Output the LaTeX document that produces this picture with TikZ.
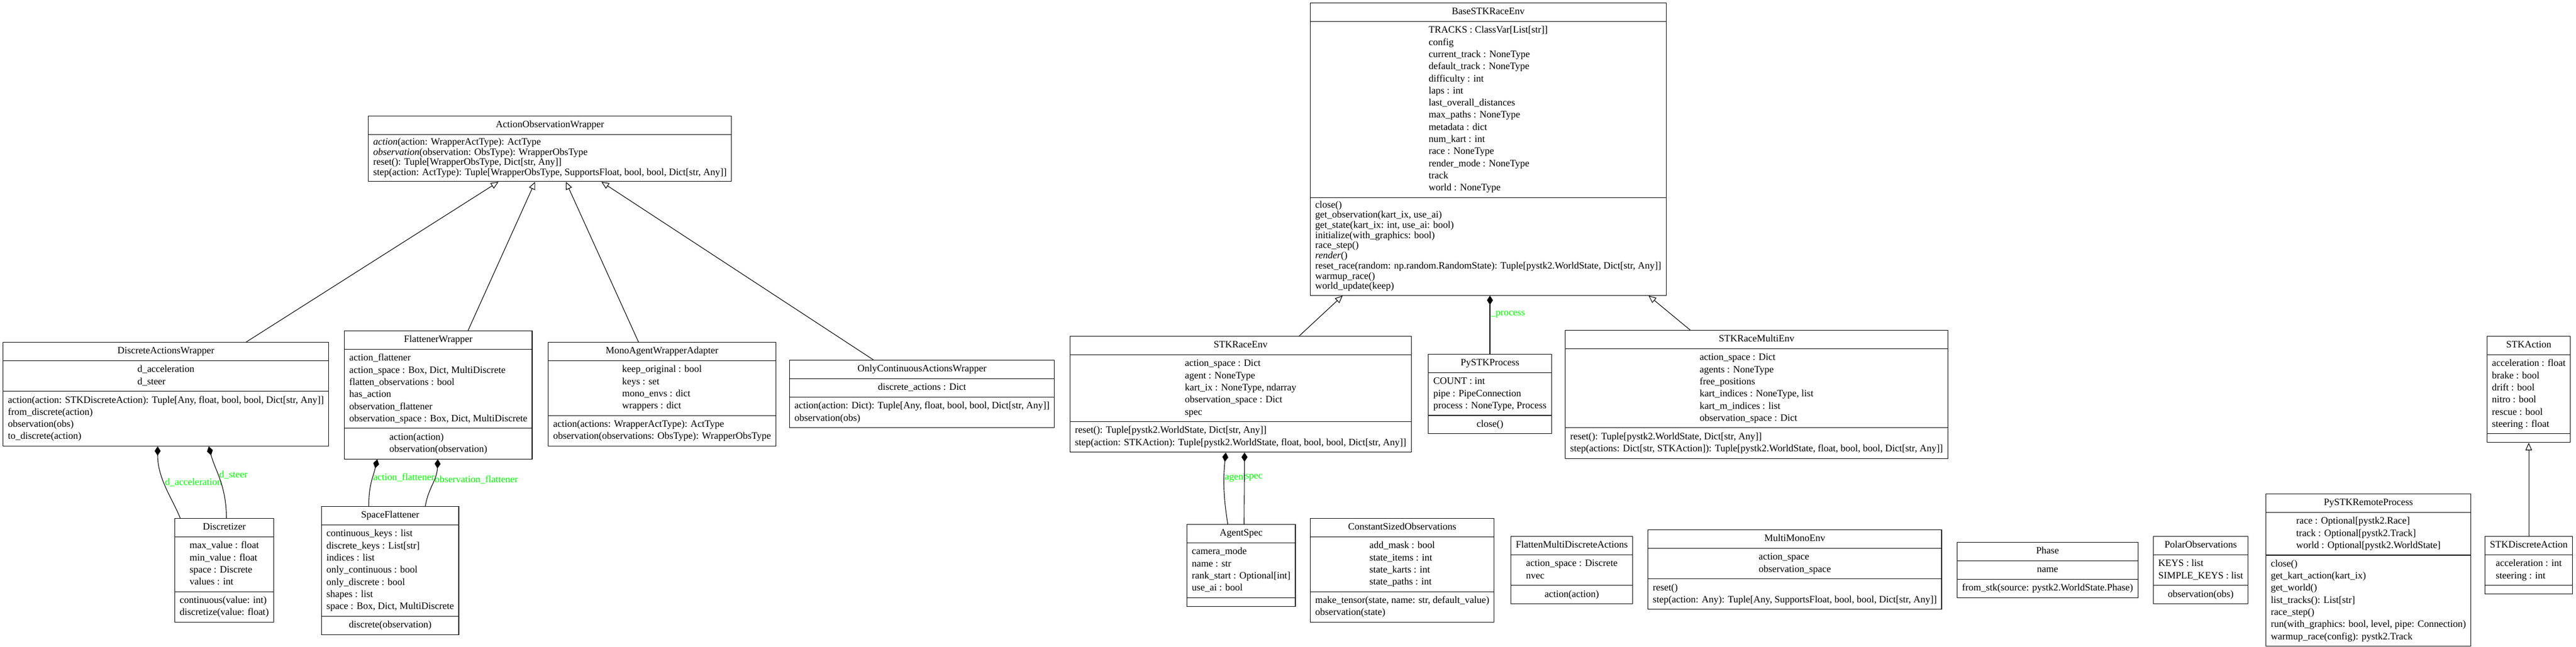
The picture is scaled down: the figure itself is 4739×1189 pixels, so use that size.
\documentclass[tikz,border=0pt]{standalone}
\usepackage{fontspec}
\setmainfont{Liberation Serif}
\usetikzlibrary{shapes.multipart,arrows.meta}
\definecolor{labelgreen}{RGB}{0,255,0}
% one compartment of a class box: left aligned lines, given line spacing, fixed padding
\newcommand{\fld}[2][22.3]{\vbox{\kern5.25pt\hbox{\fontsize{18}{#1}\selectfont\begin{tabular}{@{}l@{}}#2\end{tabular}}\kern5.25pt}}

\begin{document}
\begin{tikzpicture}[x=1pt,y=-1pt,
    cls/.style={rectangle split, rectangle split parts=3, draw, line width=1.1pt,
      anchor=north west, inner xsep=9pt, inner ysep=0pt, font=\fontsize{18}{22.3}\selectfont},
    inherit/.style={-{Triangle[open,length=14pt,width=12pt]}, line width=1.1pt},
    compose/.style={{Diamond[length=17pt,width=11pt]}-, line width=1.1pt},
    lbl/.style={anchor=west, text=labelgreen, inner sep=1pt, font=\fontsize{18}{22}\selectfont}]
  \useasboundingbox (0,0) rectangle (4739,1189);
  % Wrappers
  \node[cls, rectangle split parts=2] (aow) at (677,213) {\fld{ActionObservationWrapper}
    \nodepart{two}\fld[18.7]{\textit{action}(action: WrapperActType): ActType\\
      \textit{observation}(observation: ObsType): WrapperObsType\\
      reset(): Tuple[WrapperObsType, Dict[str, Any]]\\
      step(action: ActType): Tuple[WrapperObsType, SupportsFloat, bool, bool, Dict[str, Any]]}};
  \node[cls] (daw) at (5,629) {\fld{DiscreteActionsWrapper}
    \nodepart{two}\fld{d\_acceleration\\d\_steer}
    \nodepart{three}\fld{action(action: STKDiscreteAction): Tuple[Any, float, bool, bool, Dict[str, Any]]\\
      from\_discrete(action)\\observation(obs)\\to\_discrete(action)}};
  \node[cls] (fw) at (633,608) {\fld{FlattenerWrapper}
    \nodepart{two}\fld{action\_flattener\\action\_space : Box, Dict, MultiDiscrete\\
      flatten\_observations : bool\\has\_action\\observation\_flattener\\
      observation\_space : Box, Dict, MultiDiscrete}
    \nodepart{three}\fld{action(action)\\observation(observation)}};
  \node[cls] (mawa) at (1008,629) {\fld{MonoAgentWrapperAdapter}
    \nodepart{two}\fld{keep\_original : bool\\keys : set\\mono\_envs : dict\\wrappers : dict}
    \nodepart{three}\fld{action(actions: WrapperActType): ActType\\
      observation(observations: ObsType): WrapperObsType}};
  \node[cls] (ocaw) at (1452,662) {\fld{OnlyContinuousActionsWrapper}
    \nodepart{two}\fld{discrete\_actions : Dict}
    \nodepart{three}\fld{action(action: Dict): Tuple[Any, float, bool, bool, Dict[str, Any]]\\
      observation(obs)}};
  \node[cls] (disc) at (321,953) {\fld{Discretizer}
    \nodepart{two}\fld{max\_value : float\\min\_value : float\\space : Discrete\\values : int}
    \nodepart{three}\fld{continuous(value: int)\\discretize(value: float)}};
  \node[cls] (sflat) at (591,931) {\fld{SpaceFlattener}
    \nodepart{two}\fld{continuous\_keys : list\\discrete\_keys : List[str]\\indices : list\\
      only\_continuous : bool\\only\_discrete : bool\\shapes : list\\space : Box, Dict, MultiDiscrete}
    \nodepart{three}\fld{discrete(observation)}};
  % Environments
  \node[cls] (base) at (2410,5) {\fld{BaseSTKRaceEnv}
    \nodepart{two}\fld{TRACKS : ClassVar[List[str]]\\config\\current\_track : NoneType\\
      default\_track : NoneType\\difficulty : int\\laps : int\\last\_overall\_distances\\
      max\_paths : NoneType\\metadata : dict\\num\_kart : int\\race : NoneType\\
      render\_mode : NoneType\\track\\world : NoneType}
    \nodepart{three}\fld[18.7]{close()\\get\_observation(kart\_ix, use\_ai)\\
      get\_state(kart\_ix: int, use\_ai: bool)\\initialize(with\_graphics: bool)\\race\_step()\\
      \textit{render}()\\reset\_race(random: np.random.RandomState): Tuple[pystk2.WorldState, Dict[str, Any]]\\
      warmup\_race()\\world\_update(keep)}};
  \node[cls] (env) at (1968,618) {\fld{STKRaceEnv}
    \nodepart{two}\fld{action\_space : Dict\\agent : NoneType\\kart\_ix : NoneType, ndarray\\
      observation\_space : Dict\\spec}
    \nodepart{three}\fld{reset(): Tuple[pystk2.WorldState, Dict[str, Any]]\\
      step(action: STKAction): Tuple[pystk2.WorldState, float, bool, bool, Dict[str, Any]]}};
  \node[cls, anchor=north] (proc) at (2741,651) {\fld{PySTKProcess}
    \nodepart{two}\fld{COUNT : int\\pipe : PipeConnection\\process : NoneType, Process}
    \nodepart{three}\fld{close()}};
  \node[cls] (multi) at (2879,607) {\fld{STKRaceMultiEnv}
    \nodepart{two}\fld{action\_space : Dict\\agents : NoneType\\free\_positions\\
      kart\_indices : NoneType, list\\kart\_m\_indices : list\\observation\_space : Dict}
    \nodepart{three}\fld{reset(): Tuple[pystk2.WorldState, Dict[str, Any]]\\
      step(actions: Dict[str, STKAction]): Tuple[pystk2.WorldState, float, bool, bool, Dict[str, Any]]}};
  % Bottom row
  \node[cls] (aspec) at (2183,964) {\fld{AgentSpec}
    \nodepart{two}\fld{camera\_mode\\name : str\\rank\_start : Optional[int]\\use\_ai : bool}
    \nodepart{three}\fld{}};
  \node[cls] (cso) at (2410,953) {\fld{ConstantSizedObservations}
    \nodepart{two}\fld{add\_mask : bool\\state\_items : int\\state\_karts : int\\state\_paths : int}
    \nodepart{three}\fld{make\_tensor(state, name: str, default\_value)\\observation(state)}};
  \node[cls] (fmda) at (2779,986) {\fld{FlattenMultiDiscreteActions}
    \nodepart{two}\fld{action\_space : Discrete\\nvec}
    \nodepart{three}\fld{action(action)}};
  \node[cls] (mme) at (3031,974) {\fld{MultiMonoEnv}
    \nodepart{two}\fld{action\_space\\observation\_space}
    \nodepart{three}\fld{reset()\\step(action: Any): Tuple[Any, SupportsFloat, bool, bool, Dict[str, Any]]}};
  \node[cls] (phase) at (3600,997) {\fld{Phase}
    \nodepart{two}\fld{name}
    \nodepart{three}\fld{from\_stk(source: pystk2.WorldState.Phase)}};
  \node[cls] (polar) at (3961,986) {\fld{PolarObservations}
    \nodepart{two}\fld{KEYS : list\\SIMPLE\_KEYS : list}
    \nodepart{three}\fld{observation(obs)}};
  \node[cls] (remote) at (4168,908) {\fld{PySTKRemoteProcess}
    \nodepart{two}\fld{race : Optional[pystk2.Race]\\track : Optional[pystk2.Track]\\
      world : Optional[pystk2.WorldState]}
    \nodepart{three}\fld{close()\\get\_kart\_action(kart\_ix)\\get\_world()\\list\_tracks(): List[str]\\
      race\_step()\\run(with\_graphics: bool, level, pipe: Connection)\\warmup\_race(config): pystk2.Track}};
  % Actions
  \node[cls, anchor=north] (act) at (4652,618) {\fld{STKAction}
    \nodepart{two}\fld{acceleration : float\\brake : bool\\drift : bool\\nitro : bool\\
      rescue : bool\\steering : float}
    \nodepart{three}\fld{}};
  \node[cls, anchor=north] (dact) at (4652,986) {\fld{STKDiscreteAction}
    \nodepart{two}\fld{acceleration : int\\steering : int}
    \nodepart{three}\fld{}};
  % Inheritance
  \draw[inherit] ([xshift=448pt]daw.north west) -- ([xshift=240pt]aow.south west);
  \draw[inherit] ([xshift=228pt]fw.north west) -- ([xshift=307.5pt]aow.south west);
  \draw[inherit] ([xshift=166.6pt]mawa.north west) -- ([xshift=364pt]aow.south west);
  \draw[inherit] ([xshift=155pt]ocaw.north west) -- ([xshift=429.4pt]aow.south west);
  \draw[inherit] ([xshift=422pt]env.north west) -- ([xshift=60pt]base.south west);
  \draw[inherit] ([xshift=230.3pt]multi.north west) -- ([xshift=622.8pt]base.south west);
  \draw[inherit] (dact.north) -- (act.south);
  % Composition
  \draw[compose] ([xshift=285pt]daw.south west) .. controls +(0,60) and +(-14,-35) .. ([xshift=10.6pt]disc.north west)
    node[lbl, pos=0.43] {d\_acceleration};
  \draw[compose] ([xshift=379pt]daw.south west) .. controls +(12,45) and +(0,-60) .. ([xshift=95.5pt]disc.north west)
    node[lbl, pos=0.43] {d\_steer};
  \draw[compose] ([xshift=61pt]fw.south west) .. controls +(-8,35) and +(0,-40) .. ([xshift=87.4pt]sflat.north west)
    node[lbl, pos=0.4] {action\_flattener};
  \draw[compose] ([xshift=172.5pt]fw.south west) .. controls +(-2,40) and +(6,-35) .. ([xshift=191.4pt]sflat.north west)
    node[lbl, pos=0.4] {observation\_flattener};
  \draw[compose] (base.south -| proc.north) -- (proc.north) node[lbl, pos=0.32] {\_process};
  \draw[compose] ([xshift=287pt]env.south west) .. controls +(-5,50) and +(-8,-50) .. ([xshift=75.7pt]aspec.north west)
    node[lbl, pos=0.35] {agent};
  \draw[compose] ([xshift=321.5pt]env.south west) -- ([xshift=105.7pt]aspec.north west) node[lbl, pos=0.35] {spec};
\end{tikzpicture}
\end{document}
